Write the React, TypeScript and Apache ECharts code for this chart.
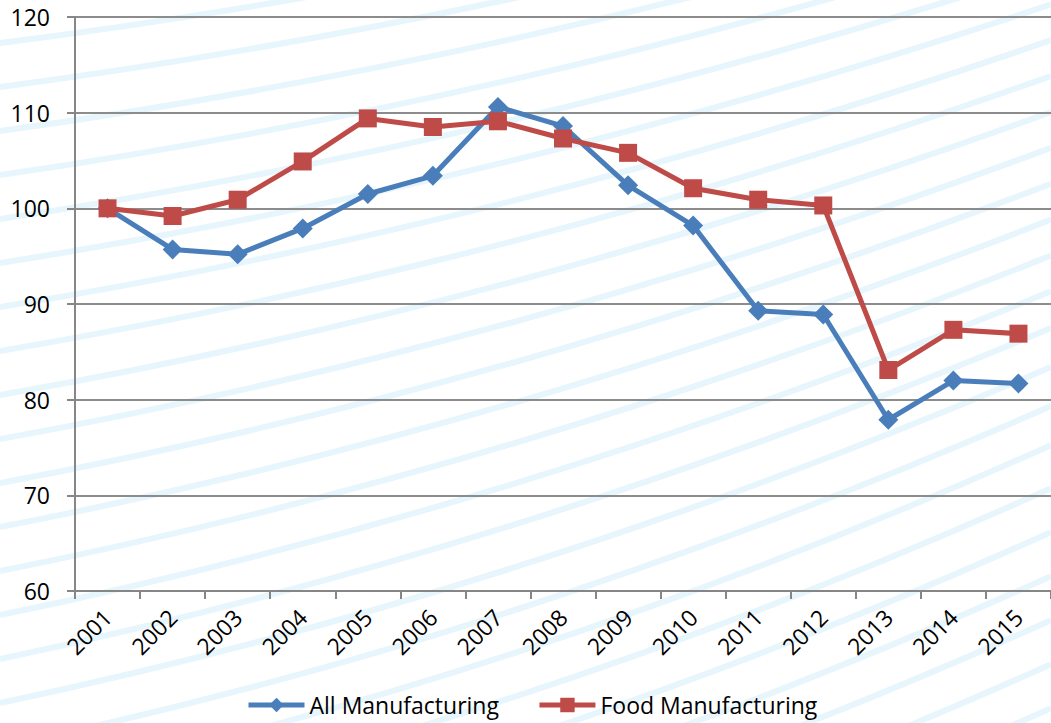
import React, { useEffect, useRef } from "react";
import * as echarts from "echarts";

const years = ["2001", "2002", "2003", "2004", "2005", "2006", "2007", "2008", "2009", "2010", "2011", "2012", "2013", "2014", "2015"];
const allManufacturing = [100, 95.7, 95.2, 97.9, 101.5, 103.4, 110.6, 108.6, 102.4, 98.2, 89.3, 88.9, 77.9, 82.0, 81.7];
const foodManufacturing = [100, 99.2, 100.9, 104.9, 109.4, 108.5, 109.1, 107.3, 105.8, 102.1, 100.9, 100.3, 83.1, 87.3, 86.9];
const seriesNames = ["All Manufacturing", "Food Manufacturing"];

const W = 1051;
const H = 723;

function buildStripes() {
  const out: any[] = [];
  for (let y0 = 43; y0 < 1250; y0 += 44) {
    const a = Math.min(0.21, 0.12 + 0.09 * (y0 / 650));
    const s1 = Math.min(0.45, 0.28 + 0.17 * (y0 / 800));
    const half = W / 2;
    const cpy = y0 - a * half;
    const y2 = cpy - s1 * half;
    out.push({
      type: "bezierCurve",
      z: -10,
      silent: true,
      shape: { x1: 0, y1: y0, x2: W, y2: y2, cpx1: half, cpy1: cpy },
      style: { stroke: "#e7f5fc", lineWidth: 6, fill: null },
    });
  }
  return out;
}

export default function App() {
  const ref = useRef<HTMLDivElement>(null);
  useEffect(() => {
    if (!ref.current) return;
    const chart = echarts.init(ref.current, null, { renderer: "svg" });
    const font = "'Open Sans', 'Noto Sans', sans-serif";
    chart.setOption({
      animation: false,
      backgroundColor: "#ffffff",
      textStyle: { fontFamily: font },
      graphic: { elements: buildStripes(), z: -10 } as any,
      grid: { left: 75, top: 17, right: -11, bottom: 132, containLabel: false },
      legend: {
        data: seriesNames,
        left: 246,
        top: 692,
        padding: 0,
        itemWidth: 56,
        itemHeight: 18,
        itemGap: 38,
        lineStyle: { width: 5 },
        textStyle: { fontSize: 23, lineHeight: 26, color: "#000", fontFamily: font },
      },
      xAxis: {
        type: "category",
        data: years,
        boundaryGap: true,
        axisLine: { show: true, lineStyle: { color: "#868686", width: 2 } },
        axisTick: { show: true, alignWithLabel: false, length: 8, lineStyle: { color: "#868686", width: 2 } },
        axisLabel: { rotate: 45, fontSize: 23, color: "#000", margin: 22, fontFamily: font, interval: 0 },
        splitLine: { show: false },
      },
      yAxis: {
        type: "value",
        min: 60,
        max: 120,
        interval: 10,
        axisLine: { show: true, lineStyle: { color: "#868686", width: 2 } },
        axisTick: { show: true, length: 8, lineStyle: { color: "#868686", width: 2 } },
        axisLabel: { fontSize: 23, color: "#000", margin: 25, fontFamily: font },
        splitLine: { show: true, lineStyle: { color: "#8c8c8c", width: 2 } },
      },
      series: [
        {
          name: seriesNames[0],
          type: "line",
          data: allManufacturing,
          symbol: "diamond",
          symbolSize: 20,
          lineStyle: { color: "#4a7ebb", width: 5 },
          itemStyle: { color: "#4a7ebb" },
          z: 3,
        },
        {
          name: seriesNames[1],
          type: "line",
          data: foodManufacturing,
          symbol: "rect",
          symbolSize: 18,
          lineStyle: { color: "#be4b48", width: 5 },
          itemStyle: { color: "#be4b48" },
          z: 4,
        },
      ],
    });
    return () => chart.dispose();
  }, []);
  return <div ref={ref} style={{ width: W, height: H, position: "absolute", left: 0, top: 0 }} />;
}
